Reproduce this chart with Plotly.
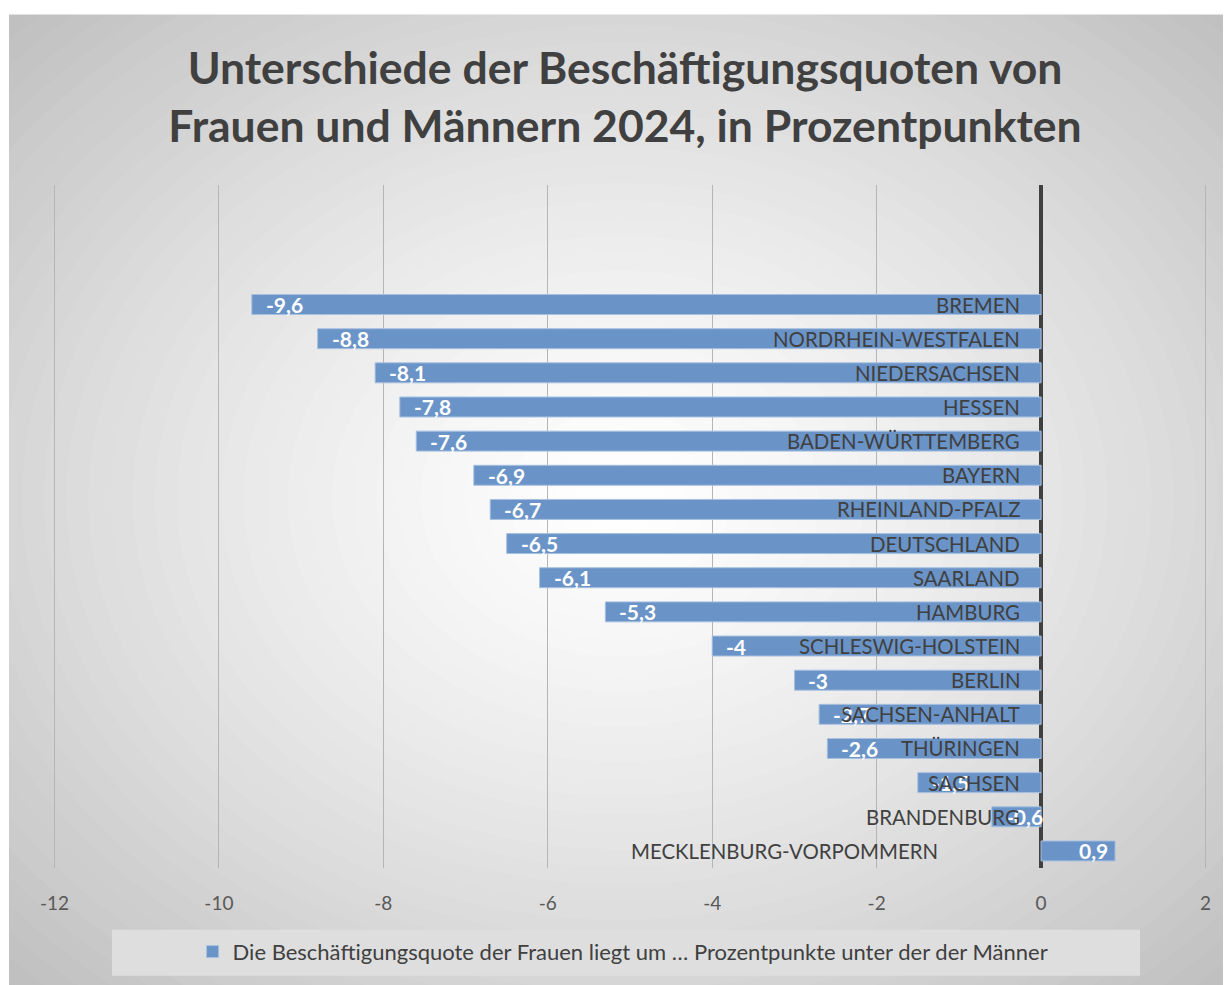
import plotly.graph_objects as go

# ---------------- data ----------------
categories = [
    "BREMEN", "NORDRHEIN-WESTFALEN", "NIEDERSACHSEN", "HESSEN", "BADEN-WÜRTTEMBERG",
    "BAYERN", "RHEINLAND-PFALZ", "DEUTSCHLAND", "SAARLAND", "HAMBURG",
    "SCHLESWIG-HOLSTEIN", "BERLIN", "SACHSEN-ANHALT", "THÜRINGEN", "SACHSEN",
    "BRANDENBURG", "MECKLENBURG-VORPOMMERN",
]
values = [-9.6, -8.8, -8.1, -7.8, -7.6, -6.9, -6.7, -6.5, -6.1, -5.3,
          -4.0, -3.0, -2.7, -2.6, -1.5, -0.6, 0.9]
tick_values = [-12, -10, -8, -6, -4, -2, 0, 2]
tick_labels = ["-12", "-10", "-8", "-6", "-4", "-2", "0", "2"]
series_name = "Die Beschäftigungsquote der Frauen liegt um … Prozentpunkte unter der der Männer"
title_lines = ["Unterschiede der Beschäftigungsquoten von",
               "Frauen und Männern 2024, in Prozentpunkten"]

# ---------------- geometry ----------------
W, H = 1223, 977
ML, MR, MT, MB = 46, 25, 177, 115
PW, PH = W - ML - MR, H - MT - MB


def px(fx):
    return (fx - ML) / PW


def py(fy):
    return (H - MB - fy) / PH


FONT = "Lato"
BAR_COLOR = "#6a94c8"
GRID_COLOR = "#b5b5b5"

# bottom-to-top order for the category axis
cat_order = categories[::-1]


def fmt(v):
    return ("%g" % v).replace(".", ",")


fig = go.Figure()
fig.add_trace(go.Bar(
    y=categories, x=values, orientation="h",
    marker=dict(color=BAR_COLOR, line=dict(color="#a8c0e0", width=1)),
    name=series_name, showlegend=True, hoverinfo="x+y",
))

# ---------------- background (radial gradient look) ----------------
shapes = []
fx0, fy0, fx1, fy1 = 1, 6, W, H
cx, cy = (fx0 + fx1) / 2, (fy0 + fy1) / 2
hw, hh = (fx1 - fx0) / 2, (fy1 - fy0) / 2
shapes.append(dict(type="rect", xref="paper", yref="paper",
                   x0=px(fx0), x1=px(fx1), y0=py(fy1), y1=py(fy0),
                   fillcolor="#c3c3c3", line=dict(width=0), layer="below"))
N = 40
rmax = 1.45
for i in range(N):
    r = rmax * (1 - i / N)
    g = int(round(255 - 40 * r ** 1.3))
    g = max(0, min(255, g))
    col = "rgb(%d,%d,%d)" % (g, g, g)
    shapes.append(dict(type="circle", xref="paper", yref="paper",
                       x0=px(cx - r * hw), x1=px(cx + r * hw),
                       y0=py(cy + r * hh), y1=py(cy - r * hh),
                       fillcolor=col, line=dict(width=0), layer="below"))
# white strips outside the chart frame
shapes.append(dict(type="rect", xref="paper", yref="paper",
                   x0=px(-50), x1=px(W + 50), y0=py(fy0), y1=py(-50),
                   fillcolor="white", line=dict(width=0), layer="below"))
shapes.append(dict(type="rect", xref="paper", yref="paper",
                   x0=px(-50), x1=px(fx0), y0=py(H + 50), y1=py(-50),
                   fillcolor="white", line=dict(width=0), layer="below"))
# legend box
shapes.append(dict(type="rect", xref="paper", yref="paper",
                   x0=px(104), x1=px(1132), y0=py(970), y1=py(924),
                   fillcolor="#dedede", line=dict(width=0), layer="below"))
# gridlines at the two ends of the value axis
for tv in (tick_values[0], tick_values[-1]):
    shapes.append(dict(type="line", xref="x", yref="paper", x0=tv, x1=tv, y0=0, y1=1,
                       line=dict(color=GRID_COLOR, width=1), layer="below"))

# ---------------- annotations ----------------
annotations = []
for c, v in zip(categories, values):
    if v < 0:
        annotations.append(dict(x=v, y=c, xref="x", yref="y", text="<b>%s</b>" % fmt(v),
                                xanchor="left", xshift=12, showarrow=False,
                                font=dict(family=FONT, size=21, color="white")))
    else:
        annotations.append(dict(x=v, y=c, xref="x", yref="y", text="<b>%s</b>" % fmt(v),
                                xanchor="right", xshift=-5, showarrow=False,
                                font=dict(family=FONT, size=21, color="white")))
for c, v in zip(categories, values):
    annotations.append(dict(x=0, y=c, xref="x", yref="y", text=c,
                            xanchor="right", xshift=-19 if v < 0 else -101,
                            showarrow=False,
                            font=dict(family=FONT, size=20.4, color="#404040")))

fig.update_layout(
    width=W, height=H,
    margin=dict(l=ML, r=MR, t=MT, b=MB, pad=0),
    paper_bgcolor="white", plot_bgcolor="rgba(0,0,0,0)",
    title=dict(text="<b>" + "<br>".join(title_lines) + "</b>",
               x=617 / W, xref="container", xanchor="center",
               y=1 - 76 / H, yref="container", yanchor="middle",
               font=dict(family=FONT, size=44.5, color="#404040")),
    bargap=0.415,
    shapes=shapes,
    annotations=annotations,
    showlegend=True,
    legend=dict(orientation="h", x=0.494, xanchor="center", y=py(946), yanchor="middle",
                bgcolor="rgba(0,0,0,0)", font=dict(family=FONT, size=22, color="#404040")),
    xaxis=dict(range=[-12.006, 2.006], tickvals=tick_values, ticktext=tick_labels,
               showgrid=True, gridcolor=GRID_COLOR, gridwidth=1,
               zeroline=True, zerolinecolor="#404040", zerolinewidth=4,
               showline=False, ticks="outside", ticklen=18, tickcolor="rgba(0,0,0,0)",
               tickfont=dict(family=FONT, size=19, color="#595959"), fixedrange=True),
    yaxis=dict(type="category", categoryorder="array", categoryarray=cat_order,
               range=[-0.5, 19.5], showticklabels=False, showgrid=False,
               zeroline=False, showline=False, ticks="", fixedrange=True),
    font=dict(family=FONT),
)

fig.write_html("out.html")
